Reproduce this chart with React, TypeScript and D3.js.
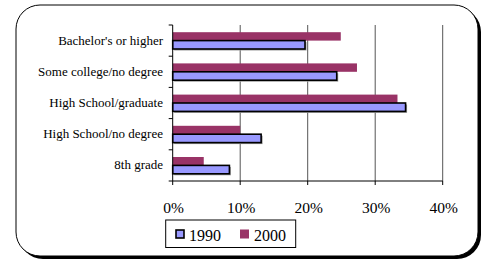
import * as React from 'react';
import * as d3 from 'd3';

const categories = ['Bachelor\'s or higher', 'Some college/no degree', 'High School/graduate', 'High School/no degree', '8th grade'];
const values1990 = [19.6, 24.3, 34.5, 13.1, 8.4];
const values2000 = [24.9, 27.3, 33.3, 10.0, 4.6];
const xTicks = [0, 10, 20, 30, 40];
const seriesNames = ['1990', '2000'];

const W = 483;
const H = 262;
const font = 'Liberation Serif, Times, DejaVu Serif, serif';

export default function App() {
	const x = d3.scaleLinear().domain([0, 40]).range([172.7, 442.7]);
	const y = d3.scaleBand().domain(categories).range([25, 181]);
	const bw = 8.4;
	const off = (y.bandwidth() - 2 * bw) / 2;

	return (
		<svg width={W} height={H} style={{ position: 'absolute', left: 0, top: 0, background: '#fff', fontFamily: font }}>
			{/* frame with shadow */}
			<rect x={19} y={8} width={462} height={251} rx={24} fill='#000' />
			<rect x={16} y={5} width={462} height={251} rx={24} fill='#fff' stroke='#000' strokeWidth={1} />

			{/* gridlines */}
			{xTicks.slice(1).map(t => (
				<line key={t} x1={x(t)} x2={x(t)} y1={25} y2={181} stroke='#555' strokeWidth={1} />
			))}

			{/* bars */}
			{categories.map((c, i) => {
				const y0 = y(c)! + off;
				return (
					<g key={c}>
						<rect x={x(0)} y={y0} width={x(values2000[i]) - x(0)} height={bw} fill='#993366' />
						<rect x={x(0) + 1.5} y={y0 + bw + 1.5} width={x(values1990[i]) - x(0)} height={bw} fill='#999' />
						<rect x={x(0)} y={y0 + bw} width={x(values1990[i]) - x(0)} height={bw} fill='#9999ff' stroke='#000' strokeWidth={1.6} />
					</g>
				);
			})}

			{/* y axis */}
			<line x1={x(0)} x2={x(0)} y1={25} y2={181} stroke='#000' />
			{[...categories.map(c => y(c)!), 181].map((v, i) => (
				<line key={i} x1={x(0) - 4} x2={x(0)} y1={v} y2={v} stroke='#000' />
			))}
			{categories.map(c => (
				<text key={c} x={163} y={y(c)! + y.bandwidth() / 2 + 4} textAnchor='end' style={{ fontFamily: font }} fontSize={13} fill='#000'>
					{c}
				</text>
			))}

			{/* x axis */}
			<line x1={x(0)} x2={x(40)} y1={181} y2={181} stroke='#000' />
			{xTicks.map(t => (
				<g key={t}>
					<line x1={x(t)} x2={x(t)} y1={181} y2={185} stroke='#000' />
					<text x={x(t) + 1} y={212.5} textAnchor='middle' style={{ fontFamily: font }} fontSize={15.5} fill='#000'>
						{t}%
					</text>
				</g>
			))}

			{/* legend */}
			<rect x={165.7} y={220} width={130} height={27.5} fill='#fff' stroke='#000' strokeWidth={1} />
			<rect x={176} y={230} width={8} height={8} fill='#9999ff' stroke='#000' strokeWidth={1.6} />
			<text x={189} y={240.5} style={{ fontFamily: font }} fontSize={16} fill='#000'>{seriesNames[0]}</text>
			<rect x={240} y={229.5} width={9} height={9} fill='#993366' />
			<text x={254} y={240.5} style={{ fontFamily: font }} fontSize={16} fill='#000'>{seriesNames[1]}</text>
		</svg>
	);
}
